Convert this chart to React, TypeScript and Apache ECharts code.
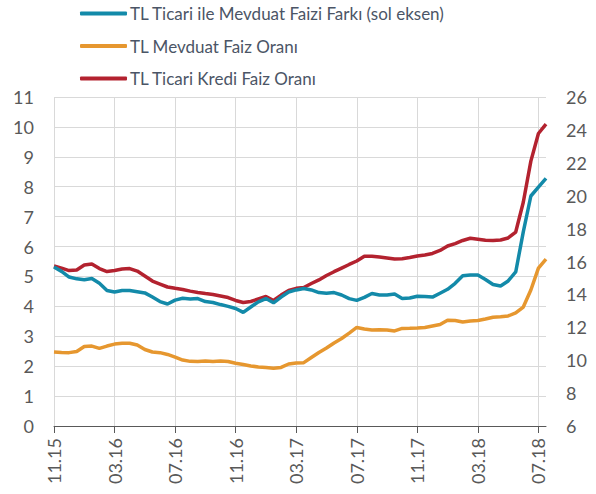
import React, { useEffect, useRef } from "react";
import * as echarts from "echarts";

const months = [
  "11.15", "12.15", "01.16", "02.16", "03.16", "04.16", "05.16", "06.16",
  "07.16", "08.16", "09.16", "10.16", "11.16", "12.16", "01.17", "02.17",
  "03.17", "04.17", "05.17", "06.17", "07.17", "08.17", "09.17", "10.17",
  "11.17", "12.17", "01.18", "02.18", "03.18", "04.18", "05.18", "06.18",
  "07.18",
];

// half-month observation points
const spreadSeries = [
  5.32, 5.17, 4.98, 4.92, 4.89, 4.93, 4.77, 4.53, 4.48, 4.53, 4.53, 4.49,
  4.45, 4.31, 4.16, 4.08, 4.21, 4.27, 4.25, 4.26, 4.16, 4.13, 4.06, 4.0,
  3.93, 3.8, 3.98, 4.15, 4.26, 4.12, 4.31, 4.48, 4.55, 4.6, 4.55, 4.46,
  4.44, 4.46, 4.38, 4.26, 4.2, 4.3, 4.43, 4.38, 4.38, 4.41, 4.26, 4.28,
  4.34, 4.33, 4.31, 4.44, 4.57, 4.77, 5.02, 5.05, 5.05, 4.9, 4.73, 4.68,
  4.85, 5.15, 6.49, 7.69, 7.99, 8.28,
];

const depositSeries = [
  10.5, 10.47, 10.46, 10.53, 10.83, 10.86, 10.72, 10.86, 10.98, 11.03, 11.03, 10.92,
  10.65, 10.5, 10.46, 10.35, 10.19, 10.01, 9.93, 9.92, 9.95, 9.92, 9.95, 9.92,
  9.81, 9.74, 9.65, 9.59, 9.56, 9.51, 9.56, 9.77, 9.83, 9.85, 10.16, 10.47,
  10.74, 11.05, 11.32, 11.65, 11.99, 11.9, 11.84, 11.85, 11.84, 11.78, 11.93, 11.94,
  11.96, 11.99, 12.08, 12.17, 12.43, 12.41, 12.32, 12.38, 12.41, 12.5, 12.61, 12.64,
  12.69, 12.87, 13.23, 14.27, 15.6, 16.15,
];

const loanSeries = [
  15.73, 15.6, 15.45, 15.48, 15.79, 15.85, 15.57, 15.39, 15.45, 15.54, 15.57, 15.42,
  15.12, 14.81, 14.63, 14.45, 14.37, 14.3, 14.2, 14.12, 14.05, 13.99, 13.9, 13.81,
  13.63, 13.51, 13.57, 13.72, 13.87, 13.63, 13.96, 14.24, 14.37, 14.42, 14.66, 14.88,
  15.15, 15.38, 15.6, 15.82, 16.03, 16.32, 16.32, 16.27, 16.21, 16.15, 16.17, 16.24,
  16.33, 16.4, 16.49, 16.67, 16.94, 17.09, 17.28, 17.41, 17.35, 17.29, 17.28, 17.31,
  17.43, 17.79, 19.6, 22.1, 23.78, 24.35,
];

const seriesNames = [
  "TL Ticari ile Mevduat Faizi Farkı (sol eksen)",
  "TL Mevduat Faiz Oranı",
  "TL Ticari Kredi Faiz Oranı",
];

const colors = ["#138aa9", "#e6972f", "#b3222f"];

export default function App() {
  const ref = useRef<HTMLDivElement>(null);
  useEffect(() => {
    if (!ref.current) return;
    const chart = echarts.init(ref.current, null, { renderer: "svg" });
    const categories: string[] = [];
    months.forEach((m) => {
      categories.push(m);
      categories.push("");
    });
    const every4 = (i: number) => i % 8 === 0;
    const font = "Lato";
    const textColor = "#595959";
    chart.setOption({
      animation: false,
      color: colors,
      textStyle: { fontFamily: font },
      legend: {
        orient: "vertical",
        left: 75,
        top: 0,
        itemWidth: 47,
        itemHeight: 4,
        itemGap: 15.5,
        icon: "roundRect",
        data: seriesNames,
        textStyle: { fontFamily: font, fontSize: 17, color: "#4b5566", padding: [0, 0, 0, -2] },
      },
      grid: { left: 54, right: 50, top: 97, bottom: 68, containLabel: false },
      xAxis: {
        type: "category",
        boundaryGap: false,
        data: categories,
        axisLine: { show: true, lineStyle: { color: "#595959", width: 1 } },
        axisTick: { show: true, interval: every4, length: 7, lineStyle: { color: "#595959" } },
        axisLabel: {
          interval: every4,
          rotate: 90,
          margin: 12,
          fontFamily: font,
          fontSize: 18,
          color: textColor,
        },
        splitLine: { show: true, interval: every4, lineStyle: { color: "#d9d9d9", width: 1 } },
      },
      yAxis: [
        {
          type: "value",
          min: 0,
          max: 11,
          interval: 1,
          axisLine: { show: false },
          axisTick: { show: false },
          axisLabel: { margin: 20, fontFamily: font, fontSize: 18, color: textColor },
          splitLine: { show: true, lineStyle: { color: "#d9d9d9", width: 1 } },
        },
        {
          type: "value",
          min: 6,
          max: 26,
          interval: 2,
          position: "right",
          axisLine: { show: false },
          axisTick: { show: false },
          axisLabel: { margin: 20, fontFamily: font, fontSize: 18, color: textColor },
          splitLine: { show: false },
        },
      ],
      series: [
        {
          name: seriesNames[0],
          type: "line",
          yAxisIndex: 0,
          data: spreadSeries,
          symbol: "none",
          lineStyle: { width: 3.5, color: colors[0] },
          z: 3,
        },
        {
          name: seriesNames[1],
          type: "line",
          yAxisIndex: 1,
          data: depositSeries,
          symbol: "none",
          lineStyle: { width: 3.5, color: colors[1] },
          z: 2,
        },
        {
          name: seriesNames[2],
          type: "line",
          yAxisIndex: 1,
          data: loanSeries,
          symbol: "none",
          lineStyle: { width: 3.5, color: colors[2] },
          z: 2,
        },
      ],
    });
    return () => chart.dispose();
  }, []);
  return (
    <div
      ref={ref}
      style={{ position: "fixed", left: 0, top: 0, width: 596, height: 494, background: "#fff" }}
    />
  );
}
